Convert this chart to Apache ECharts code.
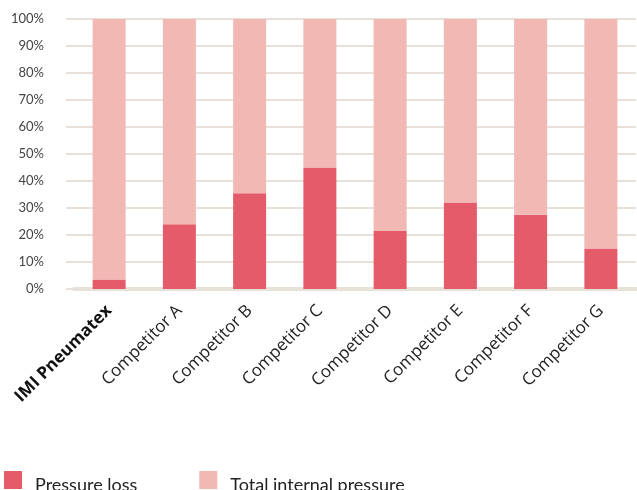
<!DOCTYPE html>
<html>
<head>
<meta charset="utf-8">
<script src="https://cdn.jsdelivr.net/npm/echarts@6/dist/echarts.min.js"></script>
<style>
    html, body { margin: 0; padding: 0; background: #fff; }
    #container { width: 637px; height: 490px; }
</style>
</head>
<body>
<div id="container"></div>
<script>
// 数据
var categories = ['IMI Pneumatex', 'Competitor A', 'Competitor B', 'Competitor C',
    'Competitor D', 'Competitor E', 'Competitor F', 'Competitor G']
var pressureLoss = [3.5, 24, 35.5, 45, 21.5, 32, 27.5, 15]
var totalInternal = [96.5, 76, 64.5, 55, 78.5, 68, 72.5, 85]
var yTicks = [0, 10, 20, 30, 40, 50, 60, 70, 80, 90, 100]

var gridColor = '#e8e1d9'

const chartInit = function () {
    var dom = document.getElementById('container')
    var myChart = echarts.init(dom)

    var option = {
        animation: false,
        textStyle: { fontFamily: 'Open Sans' },
        grid: { left: 74, right: 1, top: 19, bottom: 201 },
        legend: {
            left: 4,
            top: 471,
            padding: 0,
            itemWidth: 18,
            itemHeight: 18,
            itemGap: 62,
            icon: 'rect',
            formatter: function (name) {
                return '{t|' + name + '}'
            },
            textStyle: {
                fontSize: 18, color: '#222', fontFamily: 'Lato',
                rich: {
                    t: { fontSize: 18, color: '#222', fontFamily: 'Lato', padding: [10, 0, 0, 8] },
                },
            },
            data: ['Pressure loss', 'Total internal pressure'],
        },
        xAxis: {
            type: 'category',
            data: categories,
            axisLine: { lineStyle: { color: gridColor, width: 4 } },
            axisTick: { show: false },
            axisLabel: {
                rotate: 45,
                margin: 19,
                interval: 0,
                fontSize: 17,
                color: '#222',
                fontFamily: 'Open Sans',
                formatter: function (v, i) {
                    return i === 0 ? '{b|' + v + '}' : v
                },
                rich: {
                    b: { fontWeight: 'bold', fontSize: 17, color: '#111', fontFamily: 'Open Sans' },
                },
            },
        },
        yAxis: {
            type: 'value',
            min: yTicks[0],
            max: yTicks[yTicks.length - 1],
            interval: 10,
            axisLine: { show: false },
            axisTick: { show: true, length: 8, lineStyle: { color: gridColor, width: 2 } },
            axisLabel: {
                margin: 30,
                fontSize: 13,
                color: '#444',
                fontFamily: 'Lato',
                formatter: '{value}%',
            },
            splitLine: { lineStyle: { color: gridColor, width: 2 } },
        },
        series: [
            {
                name: 'Pressure loss',
                type: 'bar',
                stack: 'total',
                barWidth: 33,
                data: pressureLoss,
                itemStyle: { color: '#e45b69' },
            },
            {
                name: 'Total internal pressure',
                type: 'bar',
                stack: 'total',
                barWidth: 33,
                data: totalInternal,
                itemStyle: { color: '#f2b8b4' },
            },
        ],
    }
    myChart.setOption(option)
}

chartInit()
</script>
</body>
</html>
